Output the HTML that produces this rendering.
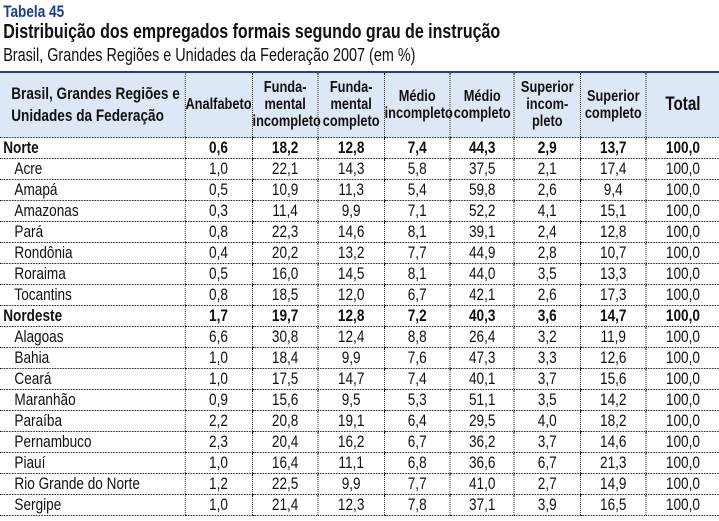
<!DOCTYPE html>
<html><head><meta charset="utf-8"><style>
*{margin:0;padding:0;box-sizing:border-box}
body{width:719px;height:521px;overflow:hidden;background:#fff;font-family:"Liberation Sans",sans-serif;color:#111}
#w{position:absolute;left:0;top:0;width:899px;height:521px;transform:scaleX(0.8);transform-origin:0 0}
.t1{position:absolute;left:4px;top:2px;font-size:17px;font-weight:bold;color:#1a3f9a}
.t2{position:absolute;left:4px;top:21px;font-size:20px;font-weight:bold}
.t3{position:absolute;left:4px;top:45px;font-size:18px}
table{position:absolute;left:0;top:71px;width:899px;border-collapse:collapse;table-layout:fixed;border-top:2px solid #1a3f9a}
th{background:#dce8f5;font-size:16px;font-weight:bold;height:65px;line-height:17px;text-align:center;border-left:1px dotted #000;border-bottom:1px dotted #000;padding:0}
th:first-child{border-left:none;text-align:left;padding-left:14px;font-size:17px;line-height:22px}
td{height:21px;font-size:17px;text-align:center;border-left:1px dotted #000;border-bottom:1px dotted #000;line-height:20px;padding:0}
td:first-child{border-left:none;text-align:left;padding-left:18px}
tr.b td{font-weight:bold}
tr.b td:first-child{padding-left:4px}
</style></head><body><div id="w">
<div class="t1">Tabela 45</div>
<div class="t2">Distribuição dos empregados formais segundo grau de instrução</div>
<div class="t3">Brasil, Grandes Regiões e Unidades da Federação 2007 (em %)</div>
<table>
<colgroup><col style="width:231px"><col style="width:84px"><col style="width:82.5px"><col style="width:82.5px"><col style="width:82.5px"><col style="width:80px"><col style="width:82.5px"><col style="width:82.5px"><col style="width:91px"></colgroup>
<tr><th>Brasil, Grandes Regiões e<br>Unidades da Federação</th><th>Analfabeto</th><th>Funda-<br>mental<br>incompleto</th><th>Funda-<br>mental<br>completo</th><th>Médio<br>incompleto</th><th>Médio<br>completo</th><th>Superior<br>incom-<br>pleto</th><th>Superior<br>completo</th><th style="font-size:19px">Total</th></tr>
<tr class="b"><td>Norte</td><td>0,6</td><td>18,2</td><td>12,8</td><td>7,4</td><td>44,3</td><td>2,9</td><td>13,7</td><td>100,0</td></tr>
<tr><td>Acre</td><td>1,0</td><td>22,1</td><td>14,3</td><td>5,8</td><td>37,5</td><td>2,1</td><td>17,4</td><td>100,0</td></tr>
<tr><td>Amapá</td><td>0,5</td><td>10,9</td><td>11,3</td><td>5,4</td><td>59,8</td><td>2,6</td><td>9,4</td><td>100,0</td></tr>
<tr><td>Amazonas</td><td>0,3</td><td>11,4</td><td>9,9</td><td>7,1</td><td>52,2</td><td>4,1</td><td>15,1</td><td>100,0</td></tr>
<tr><td>Pará</td><td>0,8</td><td>22,3</td><td>14,6</td><td>8,1</td><td>39,1</td><td>2,4</td><td>12,8</td><td>100,0</td></tr>
<tr><td>Rondônia</td><td>0,4</td><td>20,2</td><td>13,2</td><td>7,7</td><td>44,9</td><td>2,8</td><td>10,7</td><td>100,0</td></tr>
<tr><td>Roraima</td><td>0,5</td><td>16,0</td><td>14,5</td><td>8,1</td><td>44,0</td><td>3,5</td><td>13,3</td><td>100,0</td></tr>
<tr><td>Tocantins</td><td>0,8</td><td>18,5</td><td>12,0</td><td>6,7</td><td>42,1</td><td>2,6</td><td>17,3</td><td>100,0</td></tr>
<tr class="b"><td>Nordeste</td><td>1,7</td><td>19,7</td><td>12,8</td><td>7,2</td><td>40,3</td><td>3,6</td><td>14,7</td><td>100,0</td></tr>
<tr><td>Alagoas</td><td>6,6</td><td>30,8</td><td>12,4</td><td>8,8</td><td>26,4</td><td>3,2</td><td>11,9</td><td>100,0</td></tr>
<tr><td>Bahia</td><td>1,0</td><td>18,4</td><td>9,9</td><td>7,6</td><td>47,3</td><td>3,3</td><td>12,6</td><td>100,0</td></tr>
<tr><td>Ceará</td><td>1,0</td><td>17,5</td><td>14,7</td><td>7,4</td><td>40,1</td><td>3,7</td><td>15,6</td><td>100,0</td></tr>
<tr><td>Maranhão</td><td>0,9</td><td>15,6</td><td>9,5</td><td>5,3</td><td>51,1</td><td>3,5</td><td>14,2</td><td>100,0</td></tr>
<tr><td>Paraíba</td><td>2,2</td><td>20,8</td><td>19,1</td><td>6,4</td><td>29,5</td><td>4,0</td><td>18,2</td><td>100,0</td></tr>
<tr><td>Pernambuco</td><td>2,3</td><td>20,4</td><td>16,2</td><td>6,7</td><td>36,2</td><td>3,7</td><td>14,6</td><td>100,0</td></tr>
<tr><td>Piauí</td><td>1,0</td><td>16,4</td><td>11,1</td><td>6,8</td><td>36,6</td><td>6,7</td><td>21,3</td><td>100,0</td></tr>
<tr><td>Rio Grande do Norte</td><td>1,2</td><td>22,5</td><td>9,9</td><td>7,7</td><td>41,0</td><td>2,7</td><td>14,9</td><td>100,0</td></tr>
<tr><td>Sergipe</td><td>1,0</td><td>21,4</td><td>12,3</td><td>7,8</td><td>37,1</td><td>3,9</td><td>16,5</td><td>100,0</td></tr>
</table>
</div></body></html>
